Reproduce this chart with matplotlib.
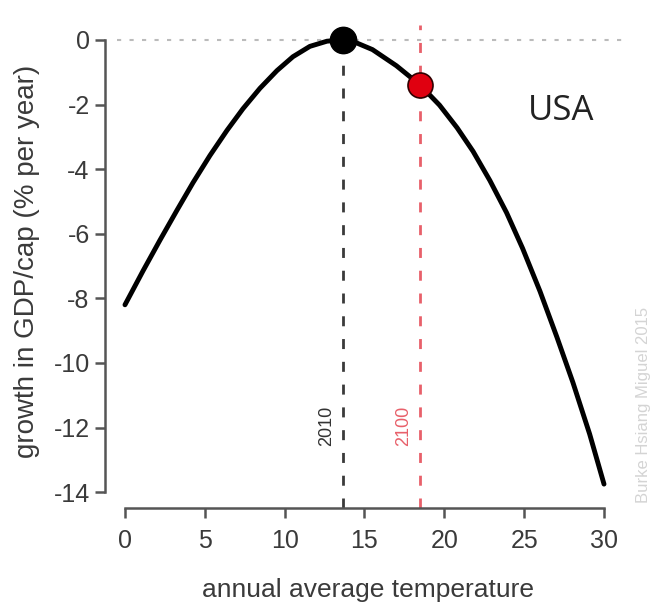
import matplotlib
matplotlib.use('Agg')
import matplotlib.pyplot as plt

plt.rcParams['font.family'] = ['Liberation Sans', 'DejaVu Sans']

# curve
temp = [0.0, 1.13, 2.19, 3.26, 4.26, 5.32, 6.39, 7.39, 8.45, 9.52, 10.52,
        11.58, 12.65, 13.65, 14.3, 15.5, 17.0, 18.47, 19.7, 20.8, 21.8,
        22.85, 23.9, 24.9, 25.99, 27.05, 28.05, 29.1, 30.0]
growth = [-8.2, -7.15, -6.2, -5.27, -4.42, -3.58, -2.8, -2.13, -1.5, -0.95,
          -0.52, -0.2, -0.04, 0.0, -0.05, -0.3, -0.8, -1.39, -2.02, -2.72,
          -3.45, -4.35, -5.35, -6.45, -7.78, -9.2, -10.6, -12.2, -13.75]

t_2010, g_2010 = 13.65, 0.0
t_2100, g_2100 = 18.47, -1.39

xticks = [0, 5, 10, 15, 20, 25, 30]
yticks = [0, -2, -4, -6, -8, -10, -12, -14]

gray = '#555555'
txt = '#3a3a3a'

fig = plt.figure(figsize=(6.51, 6.06), dpi=100)
ax = fig.add_axes([0.1613, 0.1617, 0.8065, 0.8135])
ax.set_xlim(-1.25, 31.63)
ax.set_ylim(-14.49, 0.77)

# zero reference line
ax.plot([-0.5, 31.2], [0, 0], ls=(0, (2, 4)), color='#bbbbbb', lw=1.5, zorder=1)

# year markers
ax.plot([t_2010, t_2010], [-14.49, 0], ls=(0, (3.6, 4.6)), color='#3a3a3a',
        lw=2, zorder=2)
ax.plot([t_2100, t_2100], [-14.49, 0.46], ls=(0, (3.6, 4.6)), color='#e8606a',
        lw=2, zorder=2)

ax.plot(temp, growth, color='black', lw=3.5, solid_capstyle='round',
        solid_joinstyle='round', zorder=3)
ax.plot(t_2010, g_2010, 'o', ms=19, color='black', zorder=4)
ax.plot(t_2100, g_2100, 'o', ms=18, mfc='#e00010', mec='#300000', mew=1.2,
        zorder=4)

ax.text(t_2010 - 1.05, -11.95, '2010', rotation=90, ha='center', va='center',
        fontsize=13, color='#333333')
ax.text(t_2100 - 1.05, -11.95, '2100', rotation=90, ha='center', va='center',
        fontsize=13, color='#e8606a')
ax.text(27.3, -2.2, 'USA', fontsize=25, color='#222222', ha='center',
        va='center', family=['Open Sans', 'DejaVu Sans'])

for s in ['top', 'right']:
    ax.spines[s].set_visible(False)
ax.spines['left'].set_bounds(-14, 0)
ax.spines['bottom'].set_bounds(0, 30)
for s in ['left', 'bottom']:
    ax.spines[s].set_color(gray)
    ax.spines[s].set_linewidth(1.8)

ax.set_xticks(xticks)
ax.set_yticks(yticks)
ax.set_yticklabels([str(v) for v in yticks])
ax.tick_params(direction='out', length=7, width=1.8, color=gray,
               labelsize=18, labelcolor=txt)
ax.tick_params(axis='y', pad=4)
ax.tick_params(axis='x', pad=8)

ax.set_xlabel('annual average temperature', fontsize=19, color=txt,
              labelpad=18)
ax.set_ylabel('growth in GDP/cap (% per year)', fontsize=20, color=txt,
              labelpad=10)

fig.text(0.989, 0.332, 'Burke Hsiang Miguel 2015', rotation=90, fontsize=12,
         color='#d4d4d4', ha='center', va='center')

fig.savefig('out.png', dpi=100)
